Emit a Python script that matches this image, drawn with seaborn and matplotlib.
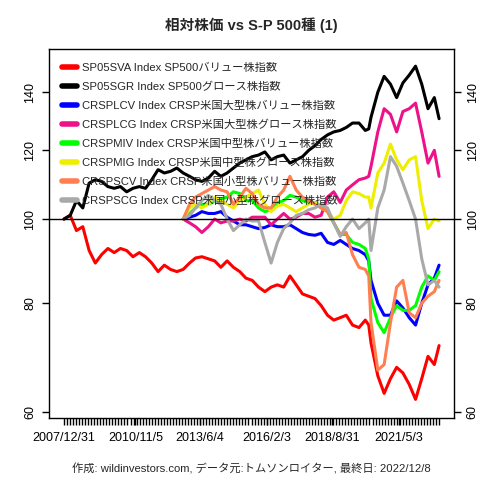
import matplotlib
matplotlib.use("Agg")
import matplotlib.pyplot as plt
import numpy as np
import pandas as pd
import seaborn as sns

# Quarterly sample dates (extra points around the 2020 crash).
dates = [
    "2007-12-31", "2008-03-31", "2008-06-30", "2008-09-30", "2008-12-31",
    "2009-03-31", "2009-06-30", "2009-09-30", "2009-12-31", "2010-03-31",
    "2010-06-30", "2010-09-30", "2010-12-31", "2011-03-31", "2011-06-30",
    "2011-09-30", "2011-12-30", "2012-03-30", "2012-06-29",
    "2012-09-28", "2012-12-31", "2013-03-28", "2013-06-28", "2013-09-30",
    "2013-12-31", "2014-03-31", "2014-06-30", "2014-09-30", "2014-12-31",
    "2015-03-31", "2015-06-30", "2015-09-30", "2015-12-31", "2016-03-31",
    "2016-06-30", "2016-09-30", "2016-12-30", "2017-03-31", "2017-06-30",
    "2017-09-29", "2017-12-29", "2018-03-29", "2018-06-29", "2018-09-28",
    "2018-12-31", "2019-03-29", "2019-06-28", "2019-09-30", "2019-12-31",
    "2020-02-19", "2020-03-23", "2020-06-30", "2020-09-30", "2020-12-31",
    "2021-03-31", "2021-06-30", "2021-09-30", "2021-12-31", "2022-03-31",
    "2022-06-30", "2022-09-30", "2022-12-08",
]
crsp_dates = dates[19:]  # CRSP indices start in late Sept 2012

sp05sva = [
    100, 101, 97, 98, 92, 89, 91, 92.5, 91.5, 92.5, 92, 90.5, 91.5, 90.5,
    89, 87, 88.5, 87.5, 87,
    87.5, 89, 90.2, 90.5, 90, 89.5, 88, 89.5, 88, 87, 85.5, 85, 83.5, 82.5,
    83.5, 84, 83.5, 86, 84, 82, 81.5, 81, 79.5, 77.5, 76.5, 77, 77.5, 75.5,
    75, 76.5, 75.5, 72, 66, 63, 65.5, 67.5, 66.5, 64.5, 62, 65.5, 69.5, 68,
    71.5,
]
sp05sgr = [
    100, 101, 105, 103, 110, 111, 110.5, 109, 108.5, 109, 107.5, 108.5, 109,
    108.5, 111, 114, 113, 113.5, 114.5,
    113, 112, 111, 110.5, 111.5, 113.5, 112, 113, 114.5, 116, 117, 118,
    118.5, 119.5, 117, 118, 118.5, 116, 117, 118, 120, 121.5, 123.5, 125,
    126, 126.5, 127.5, 129, 129, 126.5, 127, 131, 140, 146, 143, 138, 143.5,
    146.5, 150, 143, 134, 138, 130.5,
]
crsplcv = [
    100, 100.5, 101, 102, 101.5, 101.5, 102, 100.5, 99.5, 98.5, 98.5, 98,
    97.5, 97.8, 98.5, 98, 98, 98.5, 97.5, 96.5, 96, 95.8, 96.3, 94, 93.5,
    94.5, 93.5, 92.5, 92, 91, 89.5, 85, 80, 77.5, 77.5, 80.5, 79, 77, 75.5,
    80, 84, 85.5, 88.5,
]
crsplcg = [
    100, 99, 98, 96.5, 98, 100, 99, 99.5, 99.5, 100, 99.5, 100.5, 100.5,
    100.5, 98.5, 100, 101.5, 100, 100.5, 101.5, 101.5, 100.5, 101, 106,
    107.5, 104.5, 108, 109.5, 111, 111.5, 112, 115, 126, 134, 132, 126, 133,
    134, 136, 126, 116, 120, 112,
]
crspmiv = [
    100, 101.5, 103, 104, 104, 105, 105.5, 106, 107.5, 107, 105, 105, 103,
    102, 102.5, 104.5, 105, 106.5, 106, 105, 104.5, 104.5, 103.5, 102, 99,
    96, 96, 94, 93.5, 92.5, 90, 81, 76, 74, 77, 79.5, 78.5, 78.5, 79.5,
    83.5, 86, 85, 87,
]
crspmig = [
    100, 103, 104, 103, 104, 106, 105, 104, 103, 105, 106, 107, 108, 104,
    102, 103.5, 104, 103, 102, 103, 104, 104.5, 103, 102, 100, 101, 105,
    107.5, 107, 106, 106, 103, 113, 116, 122, 117, 114, 117, 118, 105, 97.5,
    100, 99.5,
]
crspscv = [
    100, 104, 106, 107, 108, 109, 108, 107.5, 104, 106, 108.5, 107, 104, 103,
    103, 106, 108, 112, 108, 106, 105, 104, 103, 102, 99, 96, 96.5, 91, 88,
    87.5, 86, 76, 67, 68, 76, 83.5, 85, 78, 77, 80, 81.5, 82.5, 85,
]
crspscg = [
    100, 101, 103, 105, 106.5, 105, 104, 100, 97, 98.5, 100, 99.5, 99.5, 94,
    89, 94, 97.5, 99, 101, 101.5, 102.5, 103, 104, 103, 99, 95.5, 98, 100,
    97.5, 99, 100, 92, 103, 108, 118, 115, 110, 105, 100, 90, 84, 85, 83.5,
]

labels = [
    "SP05SVA Index SP500バリュー株指数",
    "SP05SGR Index SP500グロース株指数",
    "CRSPLCV Index CRSP米国大型株バリュー株指数",
    "CRSPLCG Index CRSP米国大型株グロース株指数",
    "CRSPMIV Index CRSP米国中型株バリュー株指数",
    "CRSPMIG Index CRSP米国中型株グロース株指数",
    "CRSPSCV Index CRSP米国小型株バリュー株指数",
    "CRSPSCG Index CRSP米国小型株グロース株指数",
]
colors = ["#FF0000", "#000000", "#0000FF", "#EE1289",
          "#00FF00", "#EEEE00", "#FF7F50", "#A9A9A9"]
series = [
    (dates, sp05sva), (dates, sp05sgr), (crsp_dates, crsplcv),
    (crsp_dates, crsplcg), (crsp_dates, crspmiv), (crsp_dates, crspmig),
    (crsp_dates, crspscv), (crsp_dates, crspscg),
]

tick_dates = ["2007-12-31", "2010-11-05", "2013-06-04",
              "2016-02-03", "2018-08-31", "2021-05-03"]
tick_labels = ["2007/12/31", "2010/11/5", "2013/6/4",
               "2016/2/3", "2018/8/31", "2021/5/3"]
y_ticks = [60, 80, 100, 120, 140]

sns.set_style("white")
plt.rcParams["font.family"] = ["Liberation Sans", "Noto Sans CJK JP", "DejaVu Sans"]

fig = plt.figure(figsize=(4.8, 4.8), dpi=100)
ax = fig.add_axes([0.102, 0.129, 0.844, 0.769])

for (d, v), lab, col in zip(series, labels, colors):
    sns.lineplot(x=pd.to_datetime(d), y=v, color=col, lw=2.2, label=lab,
                 ax=ax, legend=False)

ax.axhline(100, color="black", lw=1, zorder=5)

ax.set_yscale("log")
ax.set_ylim(59, 157)
ax.set_yticks(y_ticks)
ax.set_yticklabels([str(t) for t in y_ticks])
ax.yaxis.set_minor_locator(matplotlib.ticker.NullLocator())

start = pd.Timestamp(dates[0])
end = pd.Timestamp(dates[-1])
pad = (end - start) * 0.04
ax.set_xlim(start - pad, end + pad)
ax.set_xticks(pd.to_datetime(tick_dates))
ax.set_xticklabels(tick_labels)
ax.set_xticks(pd.date_range(start, end, freq="44D"), minor=True)

ax.tick_params(axis="x", which="both", direction="out", length=5, width=1,
               bottom=True, labelsize=9, pad=5, colors="black")
ax.tick_params(axis="y", which="major", direction="out", length=5, width=1,
               labelsize=9, left=True, right=True, labelleft=True,
               labelright=True, pad=4, colors="black")
for t in ax.get_yticklabels():
    t.set_rotation(90)
    t.set_va("center")
for side in ["left", "right", "top", "bottom"]:
    ax.spines[side].set_color("black")
    ax.spines[side].set_linewidth(1)
ax.set_xlabel("")
ax.set_ylabel("")

handles = ax.get_lines()[:8]
leg = ax.legend(handles, labels, loc="upper left", borderaxespad=0,
                fontsize=8.1, frameon=True, fancybox=False, edgecolor="black",
                framealpha=0, handlelength=1.25, handletextpad=0.5,
                labelspacing=0.78, borderpad=1.2)
leg.get_frame().set_linewidth(1)
for h in leg.legend_handles:
    h.set_linewidth(4)

ax.set_title("相対株価 vs S-P 500種 (1)", fontsize=10.5, fontweight="bold",
             pad=14)
fig.text(0.523, 0.012, "作成: wildinvestors.com, データ元:トムソンロイター, 最終日: 2022/12/8",
         ha="center", va="bottom", fontsize=8.1)

fig.savefig("out.png", dpi=100)
